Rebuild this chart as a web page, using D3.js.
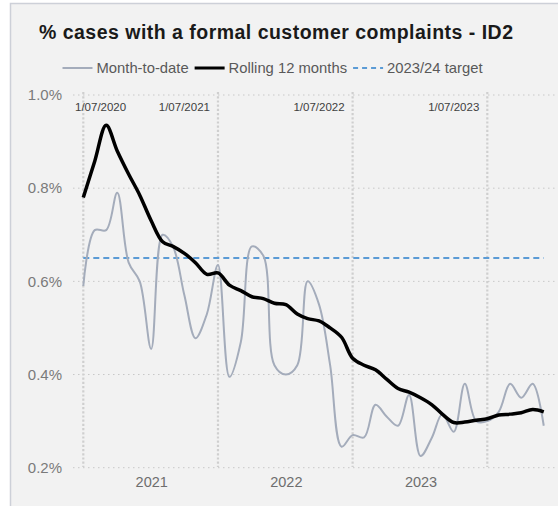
<!DOCTYPE html>
<html>
<head>
<meta charset="utf-8">
<script src="https://cdn.jsdelivr.net/npm/d3@7"></script>
<style>
  html, body { margin: 0; padding: 0; background: #ffffff; }
  svg { display: block; font-family: "Liberation Sans", Arial, sans-serif; }
</style>
</head>
<body>
<svg id="chart" width="558" height="506"></svg>
<script>
// ---- data ----
const months = ["2020-07","2020-08","2020-09","2020-10","2020-11","2020-12",
  "2021-01","2021-02","2021-03","2021-04","2021-05","2021-06",
  "2021-07","2021-08","2021-09","2021-10","2021-11","2021-12",
  "2022-01","2022-02","2022-03","2022-04","2022-05","2022-06",
  "2022-07","2022-08","2022-09","2022-10","2022-11","2022-12",
  "2023-01","2023-02","2023-03","2023-04","2023-05","2023-06",
  "2023-07","2023-08","2023-09","2023-10","2023-11","2023-12"];
const monthToDate = [0.59, 0.71, 0.71, 0.79, 0.64, 0.60,
  0.455, 0.70, 0.675, 0.57, 0.478, 0.53,
  0.635, 0.395, 0.47, 0.675, 0.655, 0.42,
  0.40, 0.42, 0.60, 0.55, 0.42, 0.245,
  0.27, 0.265, 0.335, 0.31, 0.29, 0.356,
  0.225, 0.265, 0.315, 0.277, 0.38, 0.30,
  0.30, 0.32, 0.38, 0.35, 0.38, 0.29];
const rolling12 = [0.78, 0.858, 0.935, 0.88, 0.83, 0.785,
  0.73, 0.685, 0.675, 0.66, 0.64, 0.615,
  0.618, 0.592, 0.58, 0.567, 0.563, 0.553,
  0.55, 0.53, 0.52, 0.515, 0.50, 0.48,
  0.435, 0.42, 0.41, 0.39, 0.37, 0.362,
  0.35, 0.335, 0.315, 0.297, 0.298, 0.302,
  0.305, 0.313, 0.315, 0.318, 0.325, 0.32];
const target = 0.65;
const yTicks = [0.2, 0.4, 0.6, 0.8, 1.0];
const markerDates = ["2020-07-01","2021-07-01","2022-07-01","2023-07-01"];
const markerLabels = ["1/07/2020","1/07/2021","1/07/2022","1/07/2023"];
const yearLabels = ["2021","2022","2023"];
const title = "% cases with a formal customer complaints - ID2";
const legendNames = ["Month-to-date","Rolling 12 months","2023/24 target"];

// ---- setup ----
const parseM = d3.timeParse("%Y-%m");
const parseD = d3.timeParse("%Y-%m-%d");
const dates = months.map(parseM);
const svg = d3.select("#chart");

// frame
svg.append("rect").attr("x",10.5).attr("y",3.5).attr("width",600).attr("height",600)
  .attr("fill","#f2f2f2").attr("stroke","#cdd0d8").attr("stroke-width",1.5);

const x = d3.scaleTime()
  .domain([parseD("2020-07-01"), parseD("2023-07-01")])
  .range([83.3, 487.3]);
const y = d3.scaleLinear().domain([0.2, 1.0]).range([467.7, 95]);

const gridLeft = 73, gridRight = 556;

// horizontal grid
svg.append("g").selectAll("line").data(yTicks).join("line")
  .attr("x1", gridLeft).attr("x2", gridRight)
  .attr("y1", d => y(d)).attr("y2", d => y(d))
  .attr("stroke","#c8c8c8").attr("stroke-width",1).attr("stroke-dasharray","1.5,3.5");

// vertical marker lines
svg.append("g").selectAll("line").data(markerDates).join("line")
  .attr("x1", d => x(parseD(d))).attr("x2", d => x(parseD(d)))
  .attr("y1", 92).attr("y2", 467)
  .attr("stroke","#cfcfcf").attr("stroke-width",2.2).attr("stroke-dasharray","2.2,2");

// marker labels
svg.append("g").selectAll("text").data(markerDates).join("text")
  .attr("x", (d,i) => i === 0 ? 75 : x(parseD(d)) - 8)
  .attr("y", 111)
  .attr("text-anchor", (d,i) => i === 0 ? "start" : "end")
  .attr("font-size", 11.5).attr("fill", "#404040")
  .text((d,i) => markerLabels[i]);

// y axis
const yAxis = d3.axisLeft(y).tickValues(yTicks)
  .tickFormat(d => d3.format(".1f")(d) + "%").tickSize(0).tickPadding(11);
const gy = svg.append("g").attr("transform", `translate(${gridLeft},0)`).call(yAxis);
gy.select(".domain").remove();
gy.selectAll("text").attr("font-size", 15).attr("fill", "#7a7a7a")
  .attr("font-family", "Liberation Sans, Arial, sans-serif");

// x axis
const xAxis = d3.axisBottom(x)
  .tickValues(yearLabels.map(yr => parseD(yr + "-01-01")))
  .tickFormat(d3.timeFormat("%Y")).tickSize(0).tickPadding(9);
const gx = svg.append("g").attr("transform", `translate(0,${y(0.2)})`).call(xAxis);
gx.select(".domain").remove();
gx.selectAll("text").attr("font-size", 14.5).attr("fill", "#6e6e6e")
  .attr("font-family", "Liberation Sans, Arial, sans-serif");

// target line
svg.append("line")
  .attr("x1", x(dates[0])).attr("x2", x(dates[dates.length-1]))
  .attr("y1", y(target)).attr("y2", y(target))
  .attr("stroke", "#5b9bd5").attr("stroke-width", 2).attr("stroke-dasharray", "6,4");

// lines
const line = d3.line().curve(d3.curveCatmullRom.alpha(0.5));
const mtdPts = dates.map((d,i) => [x(d), y(monthToDate[i])]);
const rollPts = dates.map((d,i) => [x(d), y(rolling12[i])]);
svg.append("path").attr("d", line(mtdPts)).attr("fill","none")
  .attr("stroke","#a4acbb").attr("stroke-width",2);
svg.append("path").attr("d", line(rollPts)).attr("fill","none")
  .attr("stroke","#000000").attr("stroke-width",3.5).attr("stroke-linejoin","round");

// title
svg.append("text").attr("x", 276).attr("y", 39).attr("text-anchor","middle")
  .attr("font-size", 19.5).attr("font-weight","bold").attr("fill","#1a1a1a")
  .attr("textLength", 474).attr("lengthAdjust", "spacing").text(title);

// legend
const lg = svg.append("g");
const styles = [
  {stroke:"#a4acbb", w:2, dash:null},
  {stroke:"#000000", w:3, dash:null},
  {stroke:"#5b9bd5", w:2, dash:"5,4"}
];
let cx = 0;
legendNames.forEach((name, i) => {
  const g = lg.append("g").attr("transform", `translate(${cx},0)`);
  g.append("line").attr("x1",0).attr("x2",30).attr("y1",0).attr("y2",0)
    .attr("stroke", styles[i].stroke).attr("stroke-width", styles[i].w)
    .attr("stroke-dasharray", styles[i].dash);
  const t = g.append("text").attr("x", 34).attr("y", 5.3).attr("font-size", 14.8)
    .attr("fill","#595959").text(name);
  cx += 34 + t.node().getComputedTextLength() + 6;
});
const totalW = cx - 6;
lg.attr("transform", `translate(${272.5 - totalW/2},68)`);
</script>
</body>
</html>
